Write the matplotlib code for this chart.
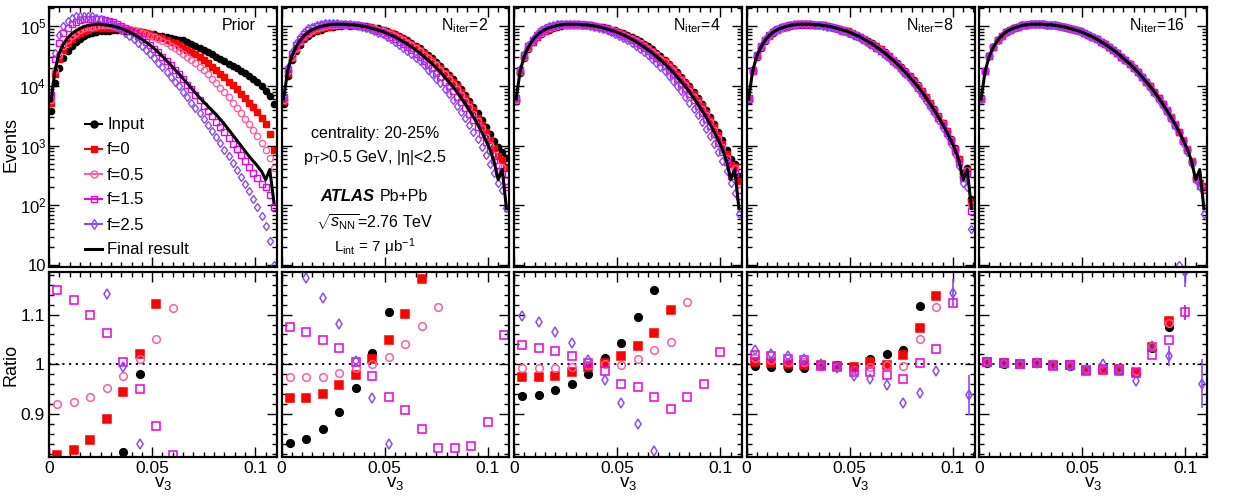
import numpy as np
import matplotlib
matplotlib.use("Agg")
import matplotlib.pyplot as plt
from matplotlib.lines import Line2D
from matplotlib.ticker import MultipleLocator, LogLocator, FixedLocator, NullFormatter, FuncFormatter

plt.rcParams['font.family'] = ['Liberation Sans', 'DejaVu Sans']
plt.rcParams['mathtext.fontset'] = 'custom'
plt.rcParams['mathtext.rm'] = 'Liberation Sans'
plt.rcParams['mathtext.it'] = 'Liberation Sans:italic'
plt.rcParams['mathtext.bf'] = 'Liberation Sans:bold'

# bin centres of the fine (top) and coarse (ratio) histograms
v3 = np.linspace(0.001, 0.109, 55)
v3_ratio = np.linspace(0.004, 0.108, 14)

labels = ['Input', 'f=0', 'f=0.5', 'f=1.5', 'f=2.5']
colors = ['black', '#ff0000', '#ff5fa0', '#e600e6', '#8a4cf0']
markers = ['o', 's', 'o', 's', 'd']
filled = [True, True, False, False, False]
titles = ['Prior', r'N$_{\mathrm{iter}}$=2', r'N$_{\mathrm{iter}}$=4',
          r'N$_{\mathrm{iter}}$=8', r'N$_{\mathrm{iter}}$=16']

# ---- top panels, log10(events) ----
line_prior = [3.75, 4.28, 4.55, 4.70, 4.80, 4.87, 4.92, 4.96, 4.99, 5.01, 5.02,
              5.03, 5.03, 5.02, 5.01, 5.00, 4.98, 4.96, 4.93, 4.90, 4.86, 4.82,
              4.78, 4.73, 4.68, 4.62, 4.56, 4.49, 4.42, 4.35, 4.27, 4.20, 4.12,
              4.04, 3.96, 3.88, 3.80, 3.73, 3.66, 3.59, 3.52, 3.44, 3.36, 3.27,
              3.18, 3.09, 3.00, 2.91, 2.82, 2.74, 2.66, 2.57, 2.43, 2.60, 2.05]
line_final = [3.78, 4.25, 4.50, 4.65, 4.76, 4.84, 4.90, 4.94, 4.97, 4.99, 5.01,
              5.02, 5.03, 5.03, 5.03, 5.03, 5.02, 5.02, 5.01, 5.00, 4.99, 4.97,
              4.95, 4.93, 4.91, 4.88, 4.85, 4.82, 4.78, 4.74, 4.70, 4.65, 4.60,
              4.55, 4.49, 4.43, 4.37, 4.30, 4.23, 4.15, 4.07, 3.99, 3.90, 3.80,
              3.70, 3.59, 3.48, 3.36, 3.23, 3.09, 2.94, 2.74, 2.43, 2.60, 1.95]

prior_input = [3.58, 4.05, 4.30, 4.46, 4.58, 4.67, 4.74, 4.79, 4.83, 4.86, 4.88,
               4.90, 4.91, 4.92, 4.92, 4.93, 4.93, 4.93, 4.92, 4.92, 4.91, 4.90,
               4.89, 4.88, 4.87, 4.86, 4.84, 4.83, 4.81, 4.80, 4.79, 4.77, 4.76,
               4.73, 4.70, 4.66, 4.63, 4.60, 4.56, 4.53, 4.49, 4.45, 4.41, 4.37,
               4.33, 4.29, 4.25, 4.21, 4.17, 4.12, 4.06, 3.99, 3.92, 3.83, 3.70]
prior_f0 = [3.72, 4.20, 4.45, 4.60, 4.71, 4.79, 4.85, 4.89, 4.92, 4.94, 4.96,
            4.97, 4.97, 4.97, 4.97, 4.96, 4.96, 4.95, 4.94, 4.93, 4.92, 4.91,
            4.90, 4.88, 4.86, 4.84, 4.82, 4.80, 4.77, 4.74, 4.71, 4.68, 4.64,
            4.60, 4.56, 4.53, 4.49, 4.43, 4.38, 4.32, 4.26, 4.20, 4.14, 4.07,
            4.01, 3.94, 3.87, 3.79, 3.72, 3.65, 3.57, 3.47, 3.36, 3.20, 2.93]
prior_f05 = [3.77, 4.27, 4.52, 4.67, 4.77, 4.84, 4.89, 4.93, 4.96, 4.98, 4.99,
             5.00, 5.01, 5.01, 5.01, 5.00, 4.99, 4.98, 4.97, 4.95, 4.93, 4.91,
             4.89, 4.87, 4.84, 4.81, 4.78, 4.75, 4.71, 4.67, 4.63, 4.59, 4.54,
             4.49, 4.44, 4.38, 4.32, 4.26, 4.19, 4.12, 4.05, 3.97, 3.89, 3.81,
             3.72, 3.63, 3.54, 3.45, 3.36, 3.26, 3.16, 3.05, 2.93, 2.80, 2.62]
prior_f15 = [3.85, 4.45, 4.72, 4.88, 4.97, 5.03, 5.07, 5.10, 5.11, 5.12, 5.12,
             5.12, 5.11, 5.10, 5.08, 5.06, 5.03, 5.00, 4.97, 4.93, 4.89, 4.84,
             4.79, 4.74, 4.68, 4.62, 4.56, 4.49, 4.42, 4.35, 4.27, 4.19, 4.11,
             4.02, 3.94, 3.85, 3.76, 3.67, 3.58, 3.49, 3.40, 3.31, 3.22, 3.13,
             3.03, 2.94, 2.84, 2.74, 2.64, 2.55, 2.45, 2.36, 2.30, 2.18, 1.97]
prior_f25 = [3.85, 4.55, 4.85, 5.00, 5.08, 5.13, 5.16, 5.17, 5.17, 5.17, 5.16,
             5.14, 5.12, 5.09, 5.06, 5.02, 4.98, 4.94, 4.89, 4.84, 4.78, 4.72,
             4.66, 4.60, 4.53, 4.46, 4.38, 4.31, 4.23, 4.15, 4.07, 3.99, 3.90,
             3.81, 3.72, 3.63, 3.54, 3.44, 3.34, 3.24, 3.14, 3.04, 2.93, 2.82,
             2.71, 2.60, 2.48, 2.36, 2.24, 2.11, 1.98, 1.83, 1.65, 1.40, 1.00]

n2_input = [3.70, 4.17, 4.43, 4.58, 4.69, 4.78, 4.84, 4.88, 4.92, 4.94, 4.96,
            4.98, 4.99, 5.00, 5.00, 5.01, 5.00, 5.01, 5.00, 5.00, 5.00, 4.98,
            4.97, 4.96, 4.94, 4.92, 4.89, 4.87, 4.83, 4.80, 4.76, 4.72, 4.67,
            4.63, 4.57, 4.52, 4.46, 4.40, 4.33, 4.25, 4.18, 4.11, 4.03, 3.94,
            3.85, 3.75, 3.65, 3.54, 3.43, 3.31, 3.19, 3.07, 2.97, 2.90, 2.80]
n2_f0 = [3.74, 4.21, 4.47, 4.62, 4.73, 4.81, 4.87, 4.91, 4.94, 4.96, 4.98,
         4.99, 5.00, 5.01, 5.01, 5.01, 5.01, 5.01, 5.00, 5.00, 4.99, 4.98,
         4.96, 4.94, 4.93, 4.90, 4.88, 4.85, 4.82, 4.78, 4.74, 4.70, 4.65,
         4.60, 4.55, 4.49, 4.43, 4.37, 4.30, 4.22, 4.15, 4.07, 3.99, 3.89,
         3.80, 3.69, 3.59, 3.47, 3.35, 3.22, 3.09, 2.96, 2.82, 2.76, 2.62]
n2_f05 = [3.77, 4.24, 4.49, 4.64, 4.75, 4.83, 4.89, 4.93, 4.96, 4.98, 5.00,
          5.01, 5.02, 5.02, 5.02, 5.02, 5.02, 5.02, 5.01, 5.00, 4.99, 4.97,
          4.96, 4.94, 4.92, 4.89, 4.86, 4.83, 4.80, 4.76, 4.72, 4.68, 4.63,
          4.58, 4.52, 4.46, 4.40, 4.34, 4.27, 4.19, 4.11, 4.03, 3.94, 3.85,
          3.75, 3.64, 3.53, 3.41, 3.29, 3.15, 3.01, 2.85, 2.66, 2.65, 2.40]
n2_f15 = [3.81, 4.28, 4.53, 4.68, 4.79, 4.87, 4.93, 4.97, 5.00, 5.01, 5.03,
          5.03, 5.04, 5.04, 5.03, 5.03, 5.02, 5.02, 5.01, 5.00, 4.98, 4.96,
          4.94, 4.91, 4.89, 4.85, 4.82, 4.78, 4.74, 4.70, 4.65, 4.60, 4.54,
          4.48, 4.42, 4.35, 4.29, 4.22, 4.15, 4.07, 3.99, 3.91, 3.82, 3.73,
          3.63, 3.53, 3.42, 3.31, 3.19, 3.06, 2.92, 2.76, 2.58, 2.55, 2.30]
n2_f25 = [3.83, 4.31, 4.56, 4.71, 4.82, 4.90, 4.96, 4.99, 5.02, 5.04, 5.05,
          5.05, 5.05, 5.05, 5.04, 5.04, 5.03, 5.02, 5.01, 4.99, 4.97, 4.95,
          4.92, 4.89, 4.86, 4.82, 4.78, 4.74, 4.69, 4.64, 4.59, 4.53, 4.47,
          4.41, 4.34, 4.27, 4.20, 4.12, 4.04, 3.95, 3.86, 3.77, 3.67, 3.57,
          3.46, 3.35, 3.23, 3.11, 2.98, 2.84, 2.70, 2.55, 2.38, 2.25, 1.95]

n4_input = [3.75, 4.22, 4.47, 4.62, 4.73, 4.81, 4.87, 4.91, 4.94, 4.97, 4.99,
            5.00, 5.01, 5.01, 5.02, 5.02, 5.01, 5.01, 5.01, 5.00, 4.99, 4.98,
            4.96, 4.94, 4.93, 4.90, 4.88, 4.85, 4.82, 4.78, 4.75, 4.70, 4.66,
            4.61, 4.55, 4.50, 4.44, 4.37, 4.30, 4.23, 4.15, 4.07, 3.99, 3.90,
            3.80, 3.70, 3.59, 3.48, 3.36, 3.23, 3.09, 2.93, 2.78, 2.70, 2.50]
n4_f0 = [3.76, 4.23, 4.48, 4.63, 4.74, 4.82, 4.88, 4.92, 4.95, 4.98, 5.00,
         5.01, 5.02, 5.02, 5.02, 5.02, 5.02, 5.01, 5.01, 5.00, 4.99, 4.97,
         4.96, 4.94, 4.92, 4.89, 4.86, 4.83, 4.80, 4.76, 4.72, 4.68, 4.63,
         4.58, 4.53, 4.47, 4.41, 4.35, 4.28, 4.20, 4.12, 4.04, 3.96, 3.86,
         3.76, 3.66, 3.55, 3.43, 3.31, 3.17, 3.03, 2.86, 2.68, 2.65, 2.40]
n4_f05 = [3.77, 4.24, 4.49, 4.64, 4.75, 4.83, 4.89, 4.93, 4.96, 4.98, 5.00,
          5.01, 5.02, 5.02, 5.02, 5.02, 5.02, 5.01, 5.01, 5.00, 4.99, 4.97,
          4.95, 4.93, 4.91, 4.88, 4.85, 4.82, 4.79, 4.75, 4.71, 4.66, 4.62,
          4.56, 4.51, 4.45, 4.39, 4.32, 4.25, 4.17, 4.09, 4.01, 3.92, 3.82,
          3.72, 3.62, 3.51, 3.39, 3.26, 3.12, 2.97, 2.79, 2.58, 2.62, 2.25]
n4_f15 = [3.79, 4.26, 4.51, 4.66, 4.77, 4.85, 4.91, 4.95, 4.98, 5.00, 5.02,
          5.03, 5.04, 5.04, 5.04, 5.03, 5.03, 5.02, 5.01, 5.00, 4.99, 4.97,
          4.95, 4.92, 4.90, 4.87, 4.84, 4.80, 4.76, 4.72, 4.68, 4.63, 4.58,
          4.52, 4.46, 4.40, 4.33, 4.26, 4.19, 4.11, 4.03, 3.95, 3.86, 3.76,
          3.66, 3.55, 3.44, 3.32, 3.19, 3.05, 2.90, 2.72, 2.50, 2.55, 2.15]
n4_f25 = [3.80, 4.28, 4.53, 4.68, 4.79, 4.87, 4.93, 4.97, 5.00, 5.02, 5.03,
          5.04, 5.04, 5.04, 5.04, 5.03, 5.02, 5.01, 5.00, 4.99, 4.97, 4.95,
          4.93, 4.90, 4.87, 4.84, 4.80, 4.76, 4.72, 4.67, 4.62, 4.57, 4.51,
          4.45, 4.38, 4.31, 4.24, 4.16, 4.08, 4.00, 3.91, 3.82, 3.72, 3.62,
          3.51, 3.40, 3.28, 3.16, 3.03, 2.89, 2.74, 2.57, 2.37, 2.20, 1.85]

n8_input = [3.77, 4.24, 4.49, 4.64, 4.75, 4.83, 4.89, 4.93, 4.96, 4.98, 5.00,
            5.01, 5.02, 5.02, 5.02, 5.02, 5.02, 5.01, 5.01, 5.00, 4.99, 4.97,
            4.95, 4.93, 4.91, 4.88, 4.85, 4.82, 4.79, 4.75, 4.71, 4.66, 4.61,
            4.56, 4.50, 4.44, 4.38, 4.31, 4.24, 4.17, 4.09, 4.01, 3.92, 3.82,
            3.72, 3.61, 3.50, 3.38, 3.25, 3.11, 2.96, 2.78, 2.55, 2.62, 2.10]
n8_f0 = [3.78, 4.25, 4.50, 4.65, 4.76, 4.84, 4.90, 4.94, 4.97, 4.99, 5.01,
         5.02, 5.03, 5.03, 5.03, 5.02, 5.02, 5.01, 5.01, 5.00, 4.99, 4.97,
         4.95, 4.93, 4.91, 4.88, 4.85, 4.82, 4.78, 4.74, 4.70, 4.66, 4.61,
         4.55, 4.50, 4.44, 4.37, 4.30, 4.23, 4.16, 4.08, 4.00, 3.91, 3.81,
         3.71, 3.60, 3.49, 3.37, 3.24, 3.10, 2.95, 2.77, 2.52, 2.60, 2.05]
n8_f05 = [3.78, 4.25, 4.50, 4.65, 4.76, 4.84, 4.90, 4.94, 4.97, 5.00, 5.01,
          5.02, 5.03, 5.03, 5.03, 5.03, 5.02, 5.01, 5.01, 5.00, 4.98, 4.97,
          4.95, 4.93, 4.90, 4.88, 4.85, 4.81, 4.78, 4.74, 4.70, 4.65, 4.60,
          4.55, 4.49, 4.43, 4.37, 4.30, 4.23, 4.15, 4.07, 3.99, 3.90, 3.80,
          3.70, 3.59, 3.48, 3.36, 3.23, 3.09, 2.93, 2.74, 2.48, 2.58, 2.00]
n8_f15 = [3.79, 4.26, 4.51, 4.66, 4.77, 4.85, 4.90, 4.95, 4.98, 5.00, 5.01,
          5.02, 5.03, 5.03, 5.03, 5.03, 5.02, 5.01, 5.01, 5.00, 4.98, 4.97,
          4.95, 4.92, 4.90, 4.87, 4.84, 4.81, 4.77, 4.73, 4.69, 4.64, 4.59,
          4.54, 4.48, 4.42, 4.36, 4.29, 4.21, 4.14, 4.06, 3.97, 3.88, 3.79,
          3.68, 3.58, 3.46, 3.34, 3.21, 3.07, 2.91, 2.72, 2.45, 2.55, 1.90]
n8_f25 = [3.80, 4.27, 4.52, 4.67, 4.78, 4.85, 4.91, 4.95, 4.98, 5.00, 5.02,
          5.03, 5.03, 5.03, 5.03, 5.03, 5.02, 5.01, 5.00, 4.99, 4.98, 4.96,
          4.94, 4.92, 4.89, 4.86, 4.83, 4.80, 4.76, 4.72, 4.68, 4.63, 4.58,
          4.52, 4.46, 4.40, 4.34, 4.27, 4.19, 4.11, 4.03, 3.94, 3.85, 3.75,
          3.65, 3.54, 3.42, 3.30, 3.17, 3.02, 2.86, 2.66, 2.38, 2.30, 1.60]

n16_input = [3.78, 4.25, 4.50, 4.65, 4.76, 4.84, 4.90, 4.94, 4.97, 4.99, 5.01,
             5.02, 5.03, 5.03, 5.03, 5.03, 5.02, 5.02, 5.01, 5.00, 4.99, 4.97,
             4.95, 4.93, 4.91, 4.88, 4.85, 4.82, 4.78, 4.74, 4.70, 4.65, 4.60,
             4.55, 4.49, 4.43, 4.37, 4.30, 4.23, 4.15, 4.07, 3.99, 3.90, 3.80,
             3.69, 3.58, 3.47, 3.35, 3.22, 3.08, 2.93, 2.73, 2.45, 2.35, 2.30]
n16_f0 = [3.78, 4.25, 4.50, 4.65, 4.76, 4.84, 4.90, 4.94, 4.97, 4.99, 5.01,
          5.02, 5.03, 5.03, 5.03, 5.03, 5.02, 5.02, 5.01, 5.00, 4.99, 4.97,
          4.95, 4.93, 4.91, 4.88, 4.85, 4.82, 4.78, 4.74, 4.70, 4.65, 4.60,
          4.55, 4.49, 4.43, 4.37, 4.30, 4.23, 4.15, 4.07, 3.99, 3.90, 3.80,
          3.70, 3.59, 3.48, 3.36, 3.23, 3.09, 2.94, 2.74, 2.46, 2.38, 2.32]
n16_f05 = [3.78, 4.25, 4.50, 4.65, 4.76, 4.84, 4.90, 4.94, 4.97, 4.99, 5.01,
           5.02, 5.03, 5.03, 5.03, 5.03, 5.02, 5.02, 5.01, 5.00, 4.99, 4.97,
           4.95, 4.93, 4.91, 4.88, 4.85, 4.82, 4.78, 4.74, 4.70, 4.65, 4.60,
           4.55, 4.49, 4.43, 4.37, 4.30, 4.23, 4.15, 4.07, 3.99, 3.90, 3.80,
           3.70, 3.59, 3.48, 3.36, 3.23, 3.09, 2.94, 2.74, 2.46, 2.36, 2.28]
n16_f15 = [3.78, 4.25, 4.50, 4.65, 4.76, 4.84, 4.90, 4.94, 4.97, 4.99, 5.01,
           5.02, 5.03, 5.03, 5.03, 5.03, 5.02, 5.02, 5.01, 5.00, 4.99, 4.97,
           4.95, 4.93, 4.91, 4.88, 4.85, 4.82, 4.78, 4.74, 4.70, 4.65, 4.60,
           4.55, 4.49, 4.43, 4.37, 4.30, 4.23, 4.15, 4.07, 3.99, 3.89, 3.79,
           3.69, 3.58, 3.47, 3.35, 3.22, 3.08, 2.93, 2.72, 2.44, 2.33, 2.25]
n16_f25 = [3.78, 4.25, 4.50, 4.65, 4.76, 4.84, 4.90, 4.94, 4.97, 4.99, 5.01,
           5.02, 5.03, 5.03, 5.03, 5.03, 5.02, 5.02, 5.01, 5.00, 4.99, 4.97,
           4.95, 4.93, 4.91, 4.88, 4.85, 4.82, 4.78, 4.74, 4.70, 4.65, 4.60,
           4.55, 4.49, 4.43, 4.37, 4.30, 4.22, 4.14, 4.06, 3.97, 3.88, 3.77,
           3.67, 3.56, 3.45, 3.33, 1.00, 3.05, 2.90, 2.70, 2.42, 2.30, 1.85]

# ---- ratio panels (coarse bins), nan = off scale ----
nan = np.nan
r_prior_input = [nan, nan, nan, nan, 0.824, 0.980, nan, nan, nan, nan, nan, nan, nan, nan]
r_prior_f0 = [0.818, 0.828, 0.848, 0.890, 0.944, 1.020, 1.122, nan, nan, nan, nan, nan, nan, nan]
r_prior_f05 = [0.919, 0.924, 0.934, 0.953, 0.976, 1.010, 1.051, 1.114, nan, nan, nan, nan, nan, nan]
r_prior_f15 = [1.149, 1.130, 1.100, 1.063, 1.004, 0.950, 0.875, 0.818, nan, nan, nan, nan, nan, nan]
r_prior_f25 = [nan, nan, nan, 1.141, 0.995, 0.840, nan, nan, nan, nan, nan, nan, nan, nan]

r_n2_input = [0.841, 0.849, 0.870, 0.904, 0.953, 1.022, 1.105, nan, nan, nan, nan, nan, nan, nan]
r_n2_f0 = [0.931, 0.932, 0.940, 0.959, 0.978, 1.010, 1.049, 1.101, 1.171, nan, nan, nan, nan, nan]
r_n2_f05 = [0.974, 0.974, 0.975, 0.982, 0.992, 1.000, 1.014, 1.041, 1.078, 1.116, nan, nan, nan, nan]
r_n2_f15 = [1.075, 1.066, 1.049, 1.032, 1.005, 0.976, 0.934, 0.907, 0.870, 0.831, 0.831, 0.836, 0.884, 1.058]
r_n2_f25 = [nan, 1.173, 1.134, 1.081, 1.007, 0.931, 0.840, nan, nan, nan, nan, nan, nan, nan]

r_n4_input = [0.936, 0.938, 0.949, 0.961, 0.980, 1.012, 1.043, 1.095, 1.149, nan, nan, nan, nan, nan]
r_n4_f0 = [0.975, 0.974, 0.976, 0.985, 0.995, 1.002, 1.016, 1.036, 1.063, 1.110, nan, nan, nan, nan]
r_n4_f05 = [0.993, 0.992, 0.992, 0.995, 0.999, 1.000, 0.999, 1.011, 1.028, 1.044, 1.125, nan, nan, nan]
r_n4_f15 = [1.039, 1.032, 1.026, 1.017, 1.002, 0.986, 0.961, 0.955, 0.933, 0.909, 0.934, 0.961, 1.024, nan]
r_n4_f25 = [1.098, 1.085, 1.066, 1.043, 1.009, 0.968, 0.922, 0.879, 0.826, nan, nan, nan, nan, nan]

r_n8_input = [0.997, 0.994, 0.993, 0.992, 0.998, 0.999, 0.995, 1.011, 1.020, 1.029, 1.117, nan, nan, nan]
r_n8_f0 = [1.005, 1.003, 1.001, 0.999, 0.999, 0.997, 0.995, 1.005, 0.999, 1.018, 1.073, 1.137, nan, nan]
r_n8_f05 = [1.012, 1.009, 1.005, 1.005, 0.997, 0.997, 0.989, 0.994, 0.999, 0.997, 1.051, 1.115, nan, nan]
r_n8_f15 = [1.019, 1.016, 1.011, 1.009, 0.997, 0.995, 0.985, 0.985, 0.978, 0.970, 1.002, 1.030, 1.124, nan]
r_n8_f25 = [1.028, 1.020, 1.016, 1.011, 1.001, 0.992, 0.976, 0.970, 0.958, 0.922, 0.943, 0.986, 1.144, 0.938]
r_n8_f25_err = [0, 0, 0, 0, 0, 0, 0, 0, 0, 0, 0, 0, 0.027, 0.04]

r_n16_input = [1.003, 1.001, 1.000, 1.002, 0.998, 0.997, 0.991, 0.991, 0.989, 0.982, 1.032, 1.076, nan, nan]
r_n16_f0 = [1.005, 1.002, 1.001, 1.003, 0.999, 0.998, 0.989, 0.989, 0.990, 0.985, 1.034, 1.088, nan, nan]
r_n16_f05 = [1.004, 1.002, 1.001, 1.003, 0.999, 0.998, 0.990, 0.991, 0.990, 0.987, 1.036, 1.083, nan, nan]
r_n16_f15 = [1.005, 1.002, 1.001, 1.003, 0.997, 0.998, 0.987, 0.990, 0.987, 0.982, 1.019, 1.048, 1.105, nan]
r_n16_f15_err = [0, 0, 0, 0, 0, 0, 0, 0, 0, 0, 0, 0, 0.015, 0]
r_n16_f25 = [1.004, 1.002, 1.001, 1.002, 0.999, 0.997, 0.989, 1.000, 0.989, 0.967, 1.037, 1.017, 1.185, 0.961]
r_n16_f25_err = [0, 0, 0, 0, 0, 0, 0, 0, 0, 0, 0, 0.02, 0.03, 0.05]

zero = [0] * 14
top_data = [
    [prior_input, prior_f0, prior_f05, prior_f15, prior_f25],
    [n2_input, n2_f0, n2_f05, n2_f15, n2_f25],
    [n4_input, n4_f0, n4_f05, n4_f15, n4_f25],
    [n8_input, n8_f0, n8_f05, n8_f15, n8_f25],
    [n16_input, n16_f0, n16_f05, n16_f15, n16_f25],
]
top_lines = [line_prior, line_final, line_final, line_final, line_final]
ratio_data = [
    [r_prior_input, r_prior_f0, r_prior_f05, r_prior_f15, r_prior_f25],
    [r_n2_input, r_n2_f0, r_n2_f05, r_n2_f15, r_n2_f25],
    [r_n4_input, r_n4_f0, r_n4_f05, r_n4_f15, r_n4_f25],
    [r_n8_input, r_n8_f0, r_n8_f05, r_n8_f15, r_n8_f25],
    [r_n16_input, r_n16_f0, r_n16_f05, r_n16_f15, r_n16_f25],
]
ratio_err = [
    [zero] * 5,
    [zero] * 5,
    [zero] * 5,
    [zero, zero, zero, zero, r_n8_f25_err],
    [zero, zero, zero, r_n16_f15_err, r_n16_f25_err],
]

W, H = 1241, 497
fig = plt.figure(figsize=(W / 100, H / 100), dpi=100)
lefts = [49, 281.5, 514, 746.5, 979]
pw = 228


def log_label(y, pos):
    n = int(round(np.log10(y)))
    return '10' if n == 1 else '$10^{%d}$' % n


def style(ax):
    for s in ax.spines.values():
        s.set_linewidth(1.6)
    ax.tick_params(which='both', direction='in', top=True, right=True, labelsize=12.5, width=1)
    ax.tick_params(which='major', length=7, pad=3)
    ax.tick_params(which='minor', length=3.5)
    ax.set_xlim(0, 0.1105)
    ax.xaxis.set_major_locator(FixedLocator([0, 0.05, 0.1]))
    ax.xaxis.set_minor_locator(MultipleLocator(0.005))


for i in range(5):
    # top panel
    ax = fig.add_axes([lefts[i] / W, 1 - 267 / H, pw / W, 260 / H])
    for j in range(5):
        c = colors[j]
        ax.plot(v3, 10 ** np.array(top_data[i][j]), ls='none', marker=markers[j], ms=4.5,
                mfc=c if filled[j] else 'none', mec=c, mew=1.0)
    ax.plot(v3, 10 ** np.array(top_lines[i]), color='black', lw=2.2)
    ax.set_yscale('log')
    ax.set_ylim(10 ** 0.97, 10 ** 5.318)
    style(ax)
    ax.yaxis.set_major_locator(LogLocator(base=10, numticks=10))
    ax.yaxis.set_minor_locator(LogLocator(base=10, subs=np.arange(2, 10), numticks=20))
    ax.yaxis.set_minor_formatter(NullFormatter())
    ax.yaxis.set_major_formatter(FuncFormatter(log_label))
    ax.tick_params(axis='y', labelsize=12, pad=2)
    ax.tick_params(labelbottom=False)
    if i > 0:
        ax.tick_params(labelleft=False)
    ax.text(0.905, 0.93, titles[i], transform=ax.transAxes, ha='right', va='center', fontsize=11.5)

    if i == 0:
        handles = []
        for j in range(5):
            c = colors[j]
            handles.append(Line2D([], [], color=c, lw=1.5, marker=markers[j], ms=5,
                                  mfc=c if filled[j] else 'none', mec=c, mew=1.0))
        handles.append(Line2D([], [], color='black', lw=2.2))
        ax.legend(handles, labels + ['Final result'], loc='upper left', bbox_to_anchor=(0.16, 0.575),
                  frameon=False, fontsize=12, handlelength=1.0, handletextpad=0.3,
                  labelspacing=0.6, borderpad=0, borderaxespad=0)
    if i == 1:
        tx = 0.41
        ax.text(tx, 0.515, 'centrality: 20-25%', transform=ax.transAxes, ha='center', va='center', fontsize=11.5)
        ax.text(tx, 0.42, r'p$_{\mathrm{T}}$>0.5 GeV, |η|<2.5', transform=ax.transAxes,
                ha='center', va='center', fontsize=11.5)
        ax.text(0.17, 0.27, 'ATLAS', transform=ax.transAxes, ha='left', va='center',
                fontsize=12, fontweight='bold', fontstyle='italic')
        ax.text(0.43, 0.27, 'Pb+Pb', transform=ax.transAxes, ha='left', va='center', fontsize=11.5)
        ax.text(0.41, 0.173, r'$\sqrt{s_{\mathrm{NN}}}$=2.76 TeV', transform=ax.transAxes,
                ha='center', va='center', fontsize=11.5)
        ax.text(0.41, 0.077, r'L$_{\mathrm{int}}$ = 7 μb$^{-1}$', transform=ax.transAxes,
                ha='center', va='center', fontsize=11)

    # ratio panel
    ax = fig.add_axes([lefts[i] / W, 1 - 457 / H, pw / W, 185 / H])
    ax.axhline(1.0, color='black', ls=(0, (1.2, 2.5)), lw=1.3)
    for j in range(5):
        c = colors[j]
        ax.errorbar(v3_ratio, ratio_data[i][j], yerr=ratio_err[i][j], fmt=markers[j], ms=5.5,
                    mfc=c if filled[j] else 'none', mec=c, mew=1.1, ecolor=c, elinewidth=1.2, capsize=0)
    ax.set_ylim(0.813, 1.186)
    style(ax)
    ax.yaxis.set_major_locator(FixedLocator([0.9, 1.0, 1.1]))
    ax.yaxis.set_minor_locator(MultipleLocator(0.02))
    ax.yaxis.set_major_formatter(FuncFormatter(lambda y, p: '%g' % y))
    ax.xaxis.set_major_formatter(FuncFormatter(lambda x, p: '%g' % x))
    if i > 0:
        ax.tick_params(labelleft=False)
    ax.set_xlabel('v$_3$', fontsize=13.5, labelpad=-1)

fig.text(11 / W, 1 - 145 / H, 'Events', rotation=90, ha='center', va='center', fontsize=13)
fig.text(11 / W, 1 - 365 / H, 'Ratio', rotation=90, ha='center', va='center', fontsize=13)

fig.savefig('out.png', dpi=100)
